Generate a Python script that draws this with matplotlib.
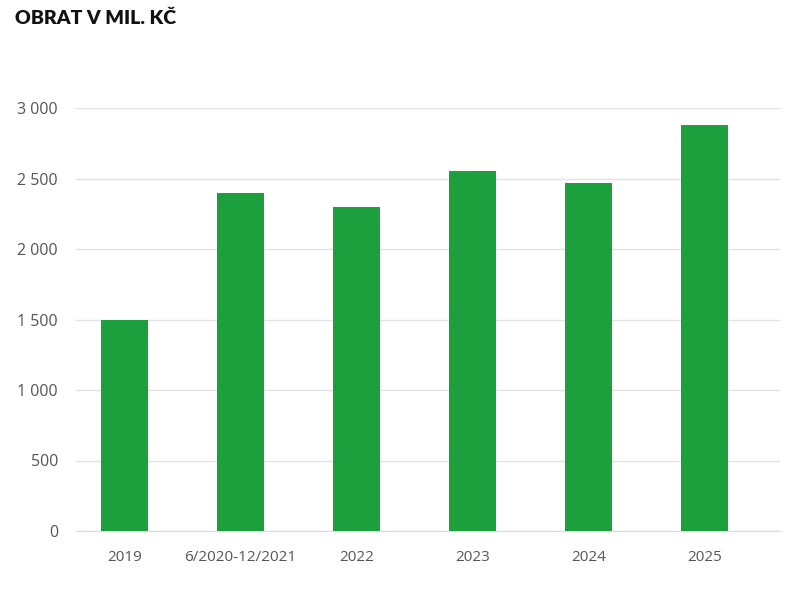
import numpy as np
import matplotlib.pyplot as plt

# data
categories = ['2019', '6/2020-12/2021', '2022', '2023', '2024', '2025']
obrat = [1500, 2400, 2300, 2550, 2470, 2880]
yticks = [0, 500, 1000, 1500, 2000, 2500, 3000]
ytick_labels = ['0', '500', '1 000', '1 500', '2 000', '2 500', '3 000']

green = '#1c9f3d'
grey_txt = '#555555'

fig = plt.figure(figsize=(8.1, 5.91), dpi=100)
ax = fig.add_axes([76/810, 1 - 531/591, (780 - 76)/810, (531 - 108)/591])

x = np.arange(len(categories))
ax.bar(x, obrat, width=0.405, color=green, zorder=3, clip_on=False)

ax.set_xlim(-0.418, len(categories) - 1 + 0.65)
ax.set_ylim(0, 3000)
ax.set_yticks(yticks)
ax.set_yticklabels(ytick_labels, fontsize=11.5, color=grey_txt, family='Open Sans')
ax.set_xticks(x)
ax.set_xticklabels(categories, fontsize=11, color=grey_txt, family='Open Sans')
ax.tick_params(axis='y', length=0, pad=13)
ax.tick_params(axis='x', length=0, pad=14)

ax.grid(axis='y', color='#e3e3e3', lw=1, zorder=0)
for s in ['top', 'right', 'left']:
    ax.spines[s].set_visible(False)
ax.spines['bottom'].set_color('#dcdcdc')

fig.text(15/810, 1 - 18/591, 'OBRAT V MIL. KČ', fontsize=14, fontweight='heavy',
         family='Lato', color='#111111', va='center', ha='left')

fig.savefig('out.png', dpi=100)
